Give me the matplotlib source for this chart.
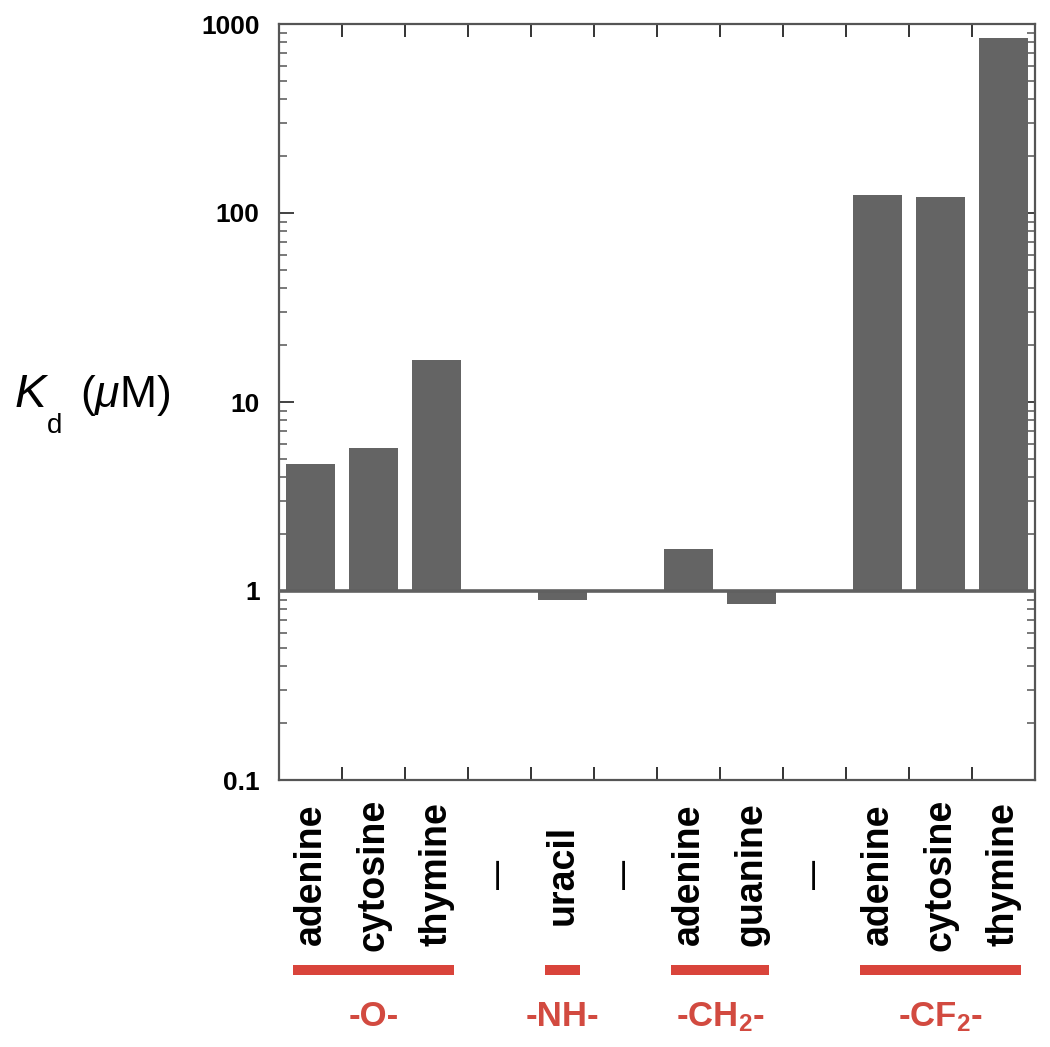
import numpy as np
import matplotlib
matplotlib.use("Agg")
import matplotlib.pyplot as plt
from matplotlib.transforms import blended_transform_factory

plt.rcParams['font.family'] = ['Liberation Sans', 'DejaVu Sans']
plt.rcParams['mathtext.fontset'] = 'custom'
plt.rcParams['mathtext.rm'] = 'Liberation Sans'
plt.rcParams['mathtext.it'] = 'Liberation Sans:italic'
plt.rcParams['mathtext.bf'] = 'Liberation Sans:bold'

# ---- data ----
categories = ["adenine", "cytosine", "thymine", "\u2014", "uracil", "\u2014",
              "adenine", "guanine", "\u2014", "adenine", "cytosine", "thymine"]
kd_values = [4.7, 5.7, 16.7, np.nan, 0.896, np.nan,
             1.67, 0.85, np.nan, 124, 122, 843]
group_labels = ["-O-", "-NH-", r"-CH$_\mathbf{2}$-", r"-CF$_\mathbf{2}$-"]
group_first = [0, 4, 6, 9]
group_last = [2, 4, 7, 11]
yticks = [0.1, 1, 10, 100, 1000]
ytick_labels = ["0.1", "1", "10", "100", "1000"]

# ---- styles ----
bar_color = "#646464"
spine_color = "#555555"
red_line = "#d9443b"
red_text = "#d24a40"

fig = plt.figure(figsize=(10.5, 10.47), dpi=100)
ax = fig.add_axes([279/1050, 1-780/1047, (1035-279)/1050, (780-24)/1047])

x = np.arange(len(categories))
vals = np.array(kd_values, dtype=float)
ax.bar(x, vals - 1, bottom=1, width=0.78, color=bar_color, edgecolor='none', zorder=2)
ax.axhline(1, color="#606060", lw=2.6, zorder=3)

ax.set_yscale('log')
ax.set_ylim(0.1, 1000)
ax.set_xlim(-0.5, len(categories) - 0.5)

ax.set_yticks(yticks)
ax.set_yticklabels(ytick_labels, fontsize=19, fontweight='bold')
ax.tick_params(axis='y', which='major', direction='in', length=11, width=1.3,
               right=True, pad=14, colors='#333333', labelcolor='black')
ax.tick_params(axis='y', which='minor', direction='in', length=6, width=1.1,
               right=True, colors='#555555')

ax.set_xticks(x)
ax.set_xticklabels(categories, rotation=90, fontsize=27, fontweight='bold', va='center')
ax.set_xticks(np.arange(len(categories) - 1) + 0.5, minor=True)
ax.tick_params(axis='x', which='major', length=0, pad=68)
ax.tick_params(axis='x', which='minor', direction='in', length=9.5, width=1.4,
               top=True, colors='#333333')
for lab in ax.get_xticklabels():
    if lab.get_text() == "\u2014":
        lab.set_fontsize(21)
        lab.set_fontweight('bold')

for s in ax.spines.values():
    s.set_color(spine_color)
    s.set_linewidth(1.6)

trans = blended_transform_factory(ax.transData, fig.transFigure)
for name, a, b in zip(group_labels, group_first, group_last):
    ax.plot([a - 0.27, b + 0.28], [1 - 970/1047] * 2, color=red_line, lw=7.2,
            solid_capstyle='butt', transform=trans, clip_on=False)
    ax.text((a + b) / 2, 1 - 1017/1047, name, transform=trans, ha='center', va='center',
            fontsize=25, fontweight='bold', color=red_text)

# y-axis label: K_d (µM)
fig.text(15/1050, 1 - 407/1047, "K", fontsize=34, style='italic', ha='left', va='baseline')
fig.text(47/1050, 1 - 433/1047, "d", fontsize=20, ha='left', va='baseline')
fig.text(80/1050, 1 - 407/1047, r"($\mu$M)", fontsize=32, ha='left', va='baseline')

fig.savefig("out.png", dpi=100)
